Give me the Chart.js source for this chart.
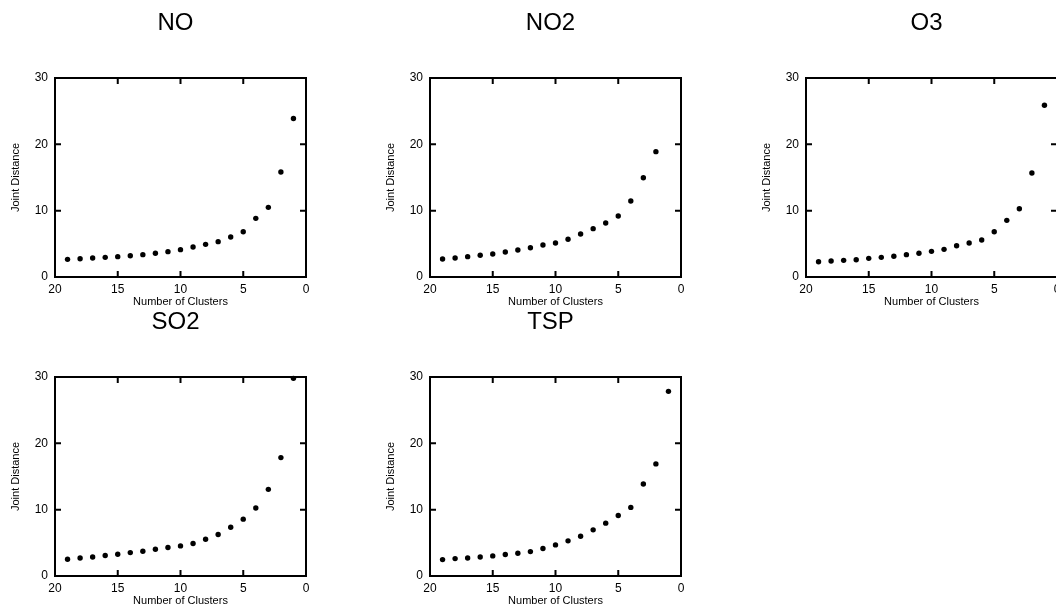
<!DOCTYPE html>
<html>
<head>
<meta charset="utf-8">
<script src="https://cdn.jsdelivr.net/npm/chart.js@4.4.1/dist/chart.umd.min.js"></script>
<style>
  html, body { margin: 0; padding: 0; background: #fff; overflow: hidden; width: 1056px; height: 608px; }
  canvas { position: absolute; }
</style>
</head>
<body>
<canvas id="c0" width="316" height="312" style="left:0px;top:0px"></canvas>
<canvas id="c1" width="316" height="312" style="left:375px;top:0px"></canvas>
<canvas id="c2" width="316" height="312" style="left:751px;top:0px"></canvas>
<canvas id="c3" width="316" height="312" style="left:0px;top:299px"></canvas>
<canvas id="c4" width="316" height="312" style="left:375px;top:299px"></canvas>
<script>
// number of clusters (x) for each point
const clusters = [19, 18, 17, 16, 15, 14, 13, 12, 11, 10, 9, 8, 7, 6, 5, 4, 3, 2, 1];

// joint distance per pollutant
const noValues  = [2.66, 2.76, 2.86, 2.96, 3.07, 3.2, 3.37, 3.57, 3.82, 4.12, 4.52, 4.92, 5.33, 6.03, 6.83, 8.84, 10.5, 15.83, 23.9];
const no2Values = [2.71, 2.86, 3.07, 3.27, 3.47, 3.77, 4.07, 4.42, 4.82, 5.13, 5.68, 6.48, 7.29, 8.14, 9.2, 11.46, 14.97, 18.9];
const o3Values  = [2.31, 2.41, 2.51, 2.61, 2.81, 2.96, 3.12, 3.37, 3.57, 3.87, 4.17, 4.72, 5.13, 5.58, 6.83, 8.54, 10.3, 15.68, 25.9];
const so2Values = [2.52, 2.72, 2.87, 3.08, 3.28, 3.53, 3.73, 4.03, 4.29, 4.54, 4.89, 5.55, 6.25, 7.36, 8.57, 10.24, 13.06, 17.85, 29.8];
const tspValues = [2.47, 2.62, 2.72, 2.87, 3.03, 3.23, 3.43, 3.68, 4.14, 4.69, 5.3, 6.0, 6.96, 7.97, 9.13, 10.34, 13.87, 16.9, 27.84];

const titles = ['NO', 'NO2', 'O3', 'SO2', 'TSP'];
const series = [noValues, no2Values, o3Values, so2Values, tspValues];

const xTicks = [20, 15, 10, 5, 0];
const yTicks = [0, 10, 20, 30];

const FONT = '"Liberation Sans", Arial, Helvetica, sans-serif';

// box, inward ticks on all sides, and panel title
const framePlugin = {
    id: 'frame',
    afterDraw(chart) {
        const ctx = chart.ctx;
        const a = chart.chartArea;
        const xs = chart.scales.x;
        const ys = chart.scales.y;
        const tick = 6;
        ctx.save();
        ctx.strokeStyle = '#000';
        ctx.lineWidth = 2;
        ctx.strokeRect(a.left, a.top, a.right - a.left, a.bottom - a.top);
        ctx.beginPath();
        xTicks.forEach(v => {
            const px = xs.getPixelForValue(v);
            ctx.moveTo(px, a.bottom); ctx.lineTo(px, a.bottom - tick);
            ctx.moveTo(px, a.top); ctx.lineTo(px, a.top + tick);
        });
        yTicks.forEach(v => {
            const py = ys.getPixelForValue(v);
            ctx.moveTo(a.left, py); ctx.lineTo(a.left + tick, py);
            ctx.moveTo(a.right, py); ctx.lineTo(a.right - tick, py);
        });
        ctx.stroke();

        ctx.fillStyle = '#000';
        ctx.font = '24px ' + FONT;
        ctx.textAlign = 'center';
        ctx.textBaseline = 'middle';
        ctx.fillText(chart.options.panelTitle, (a.left + a.right) / 2 - 5, a.top - 54.5);
        ctx.restore();
    }
};

function makePanel(i) {
    const values = series[i];
    const points = values.map((v, k) => ({ x: clusters[k], y: v }));

    new Chart(document.getElementById('c' + i), {
        type: 'scatter',
        data: {
            datasets: [{
                data: points,
                backgroundColor: '#000',
                borderWidth: 0,
                pointRadius: 2.7,
                clip: false
            }]
        },
        options: {
            panelTitle: titles[i],
            responsive: false,
            animation: false,
            devicePixelRatio: 1,
            layout: { padding: { top: 78, right: 10, left: 0, bottom: 0 } },
            plugins: {
                legend: { display: false },
                tooltip: { enabled: false }
            },
            scales: {
                x: {
                    type: 'linear',
                    min: 0,
                    max: 20,
                    reverse: true,
                    afterBuildTicks: s => { s.ticks = xTicks.map(v => ({ value: v })); },
                    afterFit: s => { s.height = 35; },
                    grid: { display: false, drawTicks: false },
                    border: { display: false },
                    ticks: { color: '#000', font: { size: 12, family: FONT }, padding: 5, maxRotation: 0, autoSkip: false },
                    title: { display: true, text: 'Number of Clusters', color: '#000', font: { size: 11, family: FONT }, padding: { top: 0, bottom: 3 } }
                },
                y: {
                    min: 0,
                    max: 30,
                    afterBuildTicks: s => { s.ticks = yTicks.map(v => ({ value: v })); },
                    afterFit: s => { s.width = 55; },
                    grid: { display: false, drawTicks: false },
                    border: { display: false },
                    ticks: { color: '#000', font: { size: 12, family: FONT }, padding: 7 },
                    title: { display: true, text: 'Joint Distance', color: '#000', font: { size: 11, family: FONT }, padding: { top: 9, bottom: 0 } }
                }
            }
        },
        plugins: [framePlugin]
    });
}

for (let i = 0; i < titles.length; i++) makePanel(i);
</script>
</body>
</html>
